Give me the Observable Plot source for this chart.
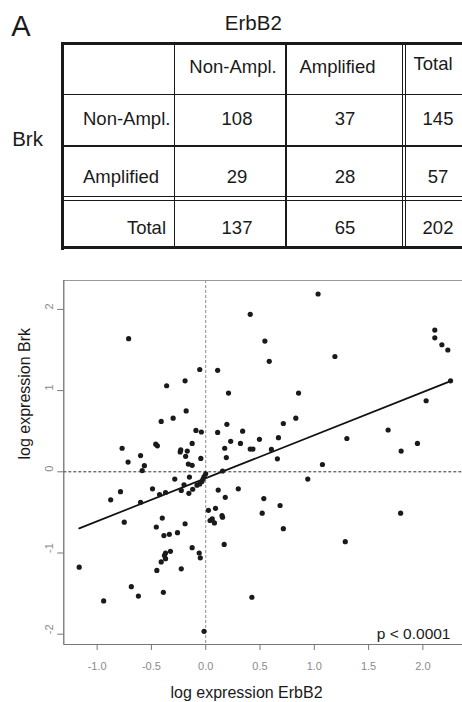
<!DOCTYPE html>
<html><head><meta charset="utf-8">
<script src="https://cdn.jsdelivr.net/npm/d3@7"></script>
<script src="https://cdn.jsdelivr.net/npm/@observablehq/plot@0.6"></script>
<style>
html,body{margin:0;padding:0;background:#fff;overflow:hidden;}
body{width:462px;height:702px;position:relative;font-family:"Liberation Sans",Arial,Helvetica,sans-serif;color:#1a1a1a;}
.t{position:absolute;white-space:nowrap;line-height:1;}
.ln{position:absolute;background:#1a1a1a;}
#chart{position:absolute;left:0;top:260px;}
</style></head><body>
<div id="table"></div>
<div id="chart"></div>
<script>
// ---- Panel A: contingency table data ----
const panelLabels = ["A", "B"];
const colHeader = "ErbB2";
const rowHeader = "Brk";
const colLabels = ["Non-Ampl.", "Amplified", "Total"];
const rowLabels = ["Non-Ampl.", "Amplified", "Total"];
const countsNonAmpl = [108, 37, 145];
const countsAmpl = [29, 28, 57];
const countsTotal = [137, 65, 202];

// ---- Panel B: scatter data (log expression) ----
const erbb2 = [-0.71,-0.055,-0.19,-0.36,-0.18,-0.30,-0.41,-0.09,-0.04,-0.77,-0.46,-0.445,-0.125,-0.23,-0.235,-0.17,-0.60,-0.185,-0.045,-0.715,-0.16,-0.125,-0.565,-0.585,
  1.035,0.41,0.545,0.585,1.19,0.11,0.21,0.855,0.83,0.715,0.195,0.11,0.34,0.23,0.32,0.495,0.67,0.175,0.41,0.435,0.605,0.19,0.66,1.075,0.155,
  1.30,1.68,1.80,1.95,2.03,2.255,2.11,2.11,2.175,2.23,
  0.0,-0.015,-0.025,-0.035,-0.055,-0.08,-0.285,-0.15,-0.12,-0.155,-0.20,-0.225,-0.785,-0.875,-0.49,-0.425,-0.37,-0.60,-0.75,-0.40,-0.455,-0.19,-0.385,-0.335,-0.26,-0.125,-0.325,-0.37,-0.38,-0.37,-0.41,-0.06,-0.05,-0.45,-0.225,-1.165,-0.685,-0.62,-0.94,-0.39,-0.015,
  0.115,0.18,0.30,0.535,0.94,0.685,0.52,0.715,0.025,0.09,0.04,0.06,0.08,0.15,0.155,0.17,0.425,1.285,1.795];
const brk = [1.64,1.26,1.12,1.06,0.75,0.66,0.62,0.51,0.49,0.29,0.34,0.32,0.35,0.27,0.245,0.255,0.20,0.19,0.165,0.12,0.095,0.08,0.075,0.015,
  2.19,1.94,1.61,1.36,1.42,1.25,0.97,0.97,0.66,0.595,0.585,0.485,0.50,0.375,0.35,0.40,0.42,0.29,0.28,0.28,0.275,0.175,0.16,0.09,0.01,
  0.41,0.515,0.255,0.35,0.875,1.12,1.745,1.65,1.565,1.50,
  -0.025,-0.06,-0.09,-0.12,-0.15,-0.165,-0.09,-0.065,-0.215,-0.265,-0.16,-0.23,-0.245,-0.345,-0.21,-0.28,-0.255,-0.375,-0.62,-0.57,-0.68,-0.64,-0.785,-0.77,-0.75,-0.935,-0.98,-1.00,-1.03,-1.07,-1.11,-1.00,-1.06,-1.215,-1.195,-1.175,-1.415,-1.53,-1.59,-1.485,-1.965,
  -0.225,-0.315,-0.21,-0.33,-0.09,-0.415,-0.51,-0.70,-0.475,-0.45,-0.60,-0.58,-0.63,-0.54,-0.56,-0.895,-1.545,-0.86,-0.51];
const xTicks = [-1.0, -0.5, 0.0, 0.5, 1.0, 1.5, 2.0];
const yTicks = [-2, -1, 0, 1, 2];
const xDomain = [-1.307, 2.365];
const yDomain = [-2.127, 2.356];
const xTitle = "log expression ErbB2";
const yTitle = "log expression Brk";
const pLabel = "p < 0.0001";

// ---- build table (HTML) ----
const tb = document.getElementById("table");
function txt(s, x, y, size, align) {
  const d = document.createElement("div");
  d.className = "t";
  d.textContent = s;
  d.style.fontSize = size + "px";
  d.style.top = y + "px";
  d.style.left = x + "px";
  const tx = align === "left" ? "0" : align === "right" ? "-100%" : "-50%";
  d.style.transform = `translate(${tx},-50%)`;
  tb.appendChild(d);
}
function line(x, y, w, h) {
  const d = document.createElement("div");
  d.className = "ln";
  Object.assign(d.style, {left: x + "px", top: y + "px", width: w + "px", height: h + "px"});
  tb.appendChild(d);
}
// outer border
line(61, 42, 401, 3.2);
line(61, 246.3, 401, 3.2);
line(61, 42, 3.2, 207.5);
// inner lines
line(173.8, 45, 1.5, 202);
line(285.2, 45, 1.5, 202);
line(401.6, 45, 1.3, 202);
line(405.2, 45, 1.3, 202);
line(64, 93.6, 398, 1.5);
line(64, 145, 398, 1.5);
line(64, 196.2, 398, 1.3);
line(64, 200.2, 398, 1.3);

txt(panelLabels[0], 21, 25.5, 29, "center");
txt(colHeader, 253.3, 22.5, 20.5, "center");
txt(rowHeader, 27.5, 138.5, 20.5, "center");
const hdrPos = [[233, 66.5], [337.5, 66.5], [433, 63.8]];
colLabels.forEach((s, i) => txt(s, hdrPos[i][0], hdrPos[i][1], 18.5, "center"));
const rowY = [118.5, 177.3, 228.2];
const rowLblPos = [[83, "left"], [83, "left"], [166, "right"]];
rowLabels.forEach((s, i) => txt(s, rowLblPos[i][0], rowY[i], 18.5, rowLblPos[i][1]));
const valX = [237, 345, 438];
[countsNonAmpl, countsAmpl, countsTotal].forEach((row, r) =>
  row.forEach((v, c) => txt(String(v), valX[c], rowY[r], 18.5, "center")));
txt(panelLabels[1], 19.7, 292.5, 29, "center");

// ---- scatter plot ----
const data = erbb2.map((x, i) => ({x, y: brk[i]}));
const gray = "#8a8a8a";
const fmtX = d => d.toFixed(1);
const chart = Plot.plot({
  width: 462, height: 442,
  marginLeft: 63.3, marginRight: 0, marginTop: 20, marginBottom: 58,
  x: {domain: xDomain},
  y: {domain: yDomain},
  style: {fontFamily: "'Liberation Sans', Arial, sans-serif", background: "white", color: "#1a1a1a", overflow: "visible"},
  marks: [
    Plot.ruleX([0], {stroke: "#8c8c8c", strokeDasharray: "3,2", strokeWidth: 1}),
    Plot.ruleY([0], {stroke: "#333", strokeDasharray: "3,2", strokeWidth: 1}),
    Plot.ruleY([yDomain[1]], {stroke: "#999", strokeWidth: 1.2}),
    Plot.ruleY([yDomain[0]], {stroke: "#777", strokeWidth: 1.2}),
    Plot.ruleX([xDomain[0]], {stroke: "#666", strokeWidth: 1.2}),
    Plot.axisX(xTicks, {tickSize: 6, tickFormat: () => "", color: "#777", label: null}),
    Plot.axisY(yTicks, {tickSize: 6, tickFormat: () => "", color: "#777", label: null}),
    Plot.text(xTicks, {x: d => d, text: fmtX, frameAnchor: "bottom", dy: 21.7, lineAnchor: "middle", fontSize: 11, fill: gray}),
    Plot.text(yTicks, {y: d => d, text: d => String(d), frameAnchor: "left", dx: -14.3, rotate: -90, lineAnchor: "middle", fontSize: 11, fill: gray}),
    Plot.linearRegressionY(data, {x: "x", y: "y", stroke: "#111", strokeWidth: 1.7, ci: 0}),
    Plot.dot(data, {x: "x", y: "y", r: 2.6, fill: "#1a1a1a", stroke: "none"}),
    Plot.text([pLabel], {frameAnchor: "bottom-right", dx: -12, dy: -10.4, textAnchor: "end", lineAnchor: "middle", fontSize: 15.5, fill: "#1a1a1a"}),
    Plot.text([xTitle], {frameAnchor: "bottom", dx: -16.6, dy: 48.5, lineAnchor: "middle", fontSize: 16, fill: "#1a1a1a"}),
    Plot.text([yTitle], {frameAnchor: "left", dx: -39.1, dy: -3, rotate: -90, lineAnchor: "middle", fontSize: 16, fill: "#1a1a1a"})
  ]
});
document.getElementById("chart").appendChild(chart);
</script>
</body></html>
